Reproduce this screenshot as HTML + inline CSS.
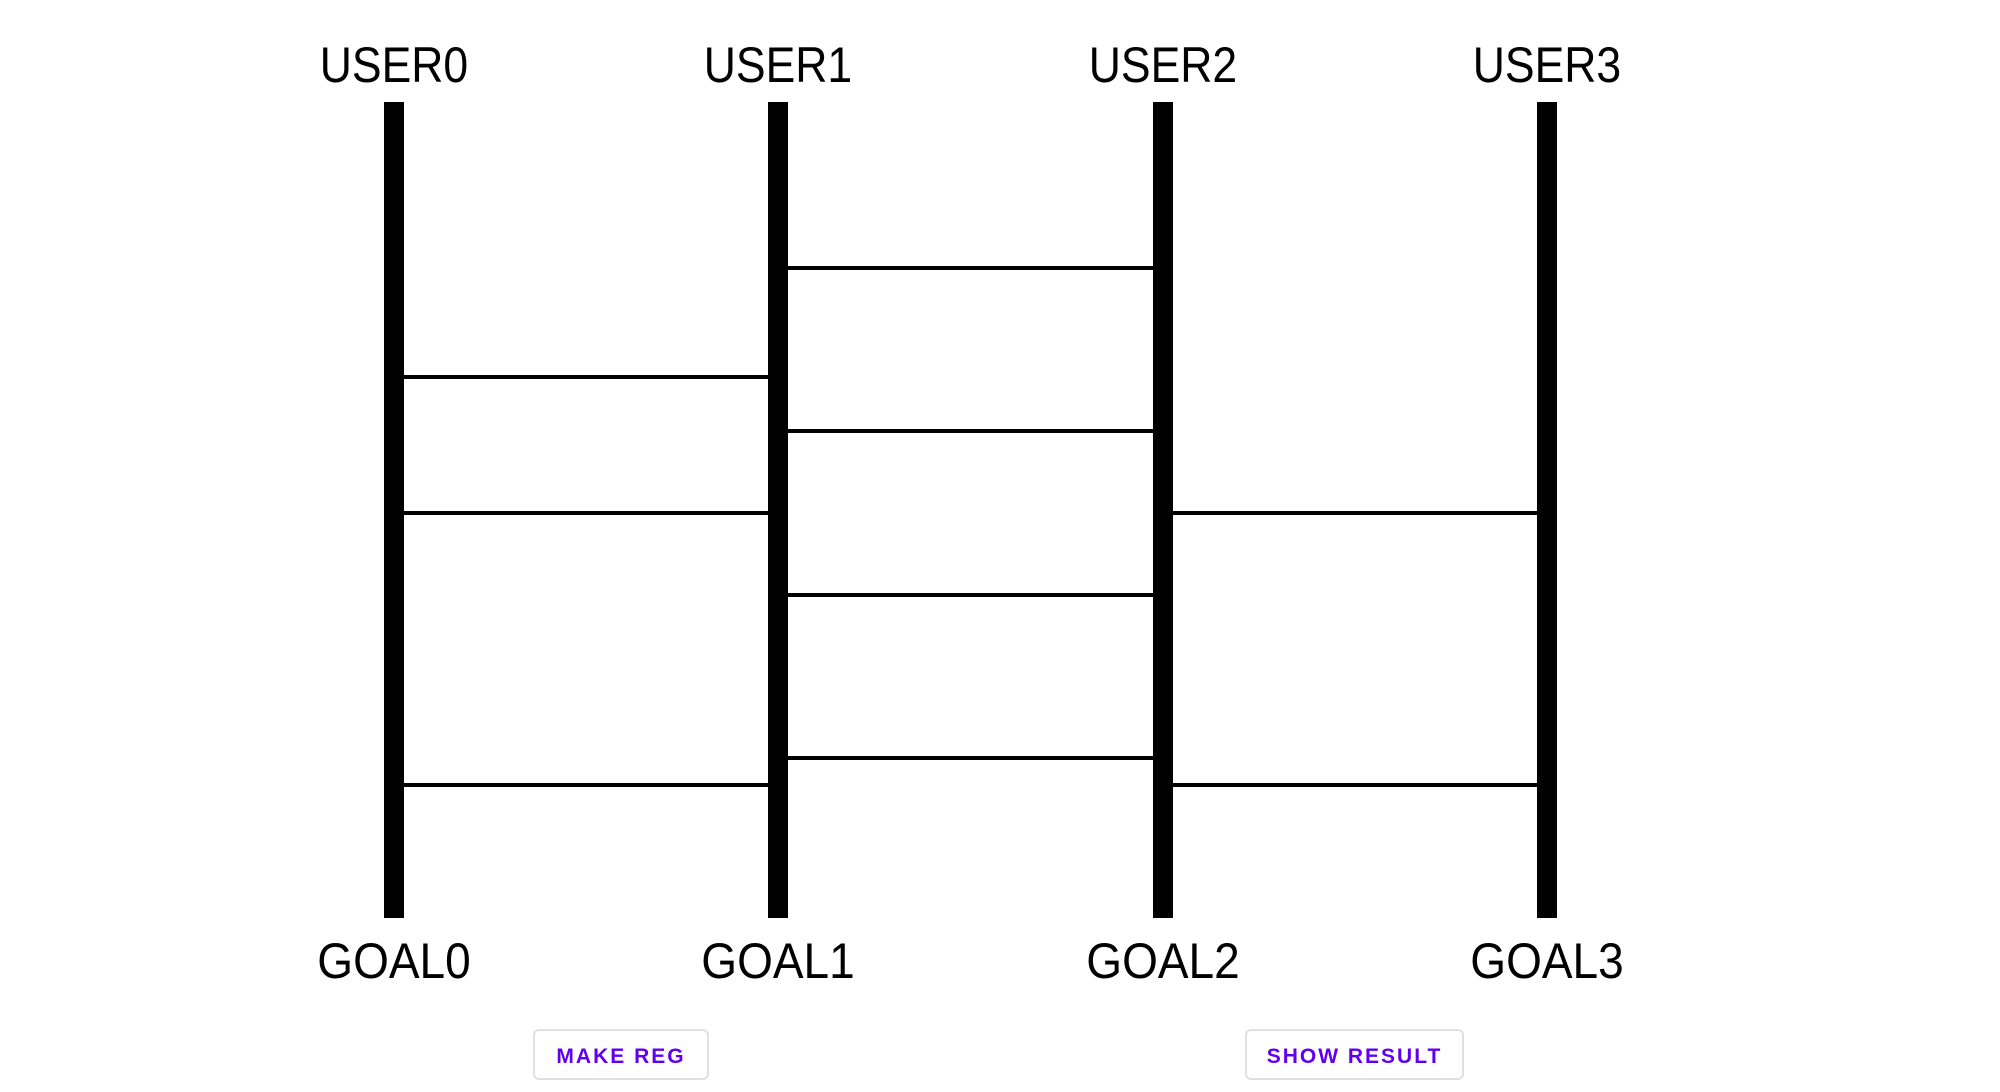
<!DOCTYPE html>
<html><head><style>
html,body{margin:0;padding:0;background:#fff;}
body{width:2000px;height:1092px;position:relative;overflow:hidden;font-family:"Liberation Sans",sans-serif;}
.lbl{position:absolute;width:300px;text-align:center;font-size:50px;color:#000;line-height:1;transform:scaleX(0.89);}
.g{transform:scaleX(0.92);}
.v{position:absolute;background:#000;width:20px;top:102px;height:816px;}
.h{position:absolute;background:#000;height:4px;}
.btn{position:absolute;top:1029px;height:51px;padding-top:4px;border:2px solid #e0e0e0;border-radius:6px;box-sizing:border-box;color:#6200ee;font-size:21px;font-weight:bold;letter-spacing:2px;display:flex;align-items:center;justify-content:center;}
</style></head><body>
<div class="lbl" style="left:244px;top:40px">USER0</div>
<div class="lbl" style="left:628px;top:40px">USER1</div>
<div class="lbl" style="left:1013px;top:40px">USER2</div>
<div class="lbl" style="left:1397px;top:40px">USER3</div>
<div class="lbl g" style="left:244px;top:936px">GOAL0</div>
<div class="lbl g" style="left:628px;top:936px">GOAL1</div>
<div class="lbl g" style="left:1013px;top:936px">GOAL2</div>
<div class="lbl g" style="left:1397px;top:936px">GOAL3</div>
<div class="v" style="left:384px"></div>
<div class="v" style="left:768px"></div>
<div class="v" style="left:1153px"></div>
<div class="v" style="left:1537px"></div>
<div class="h" style="left:404px;width:364px;top:375px"></div>
<div class="h" style="left:404px;width:364px;top:511px"></div>
<div class="h" style="left:404px;width:364px;top:783px"></div>
<div class="h" style="left:788px;width:365px;top:266px"></div>
<div class="h" style="left:788px;width:365px;top:429px"></div>
<div class="h" style="left:788px;width:365px;top:593px"></div>
<div class="h" style="left:788px;width:365px;top:756px"></div>
<div class="h" style="left:1173px;width:364px;top:511px"></div>
<div class="h" style="left:1173px;width:364px;top:783px"></div>
<div class="btn" style="left:533px;width:176px">MAKE REG</div>
<div class="btn" style="left:1245px;width:219px">SHOW RESULT</div>
</body></html>
